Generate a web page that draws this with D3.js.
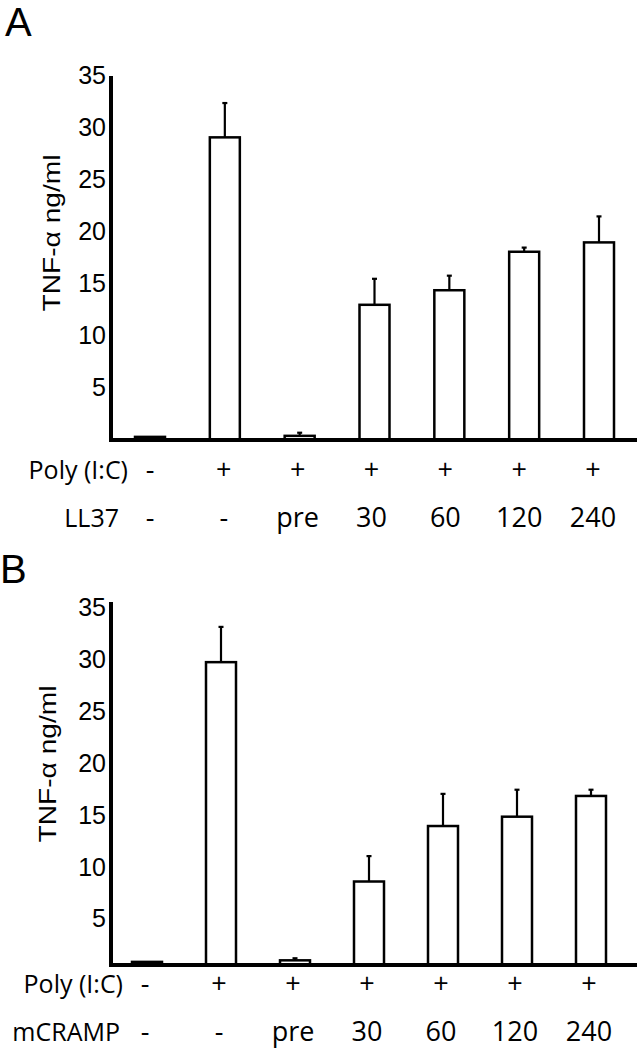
<!DOCTYPE html>
<html>
<head>
<meta charset="utf-8">
<script src="https://cdn.jsdelivr.net/npm/d3@7"></script>
<style>
  html, body { margin: 0; padding: 0; background: #fff; }
  svg { display: block; }
</style>
</head>
<body>
<svg id="chart" width="638" height="1050"></svg>
<script>
// ---------- data ----------
const groups = ["g1", "g2", "g3", "g4", "g5", "g6", "g7"];
const polyRow = ["-", "+", "+", "+", "+", "+", "+"];
const ll37Row = ["-", "-", "pre", "30", "60", "120", "240"];
const mcrampRow = ["-", "-", "pre", "30", "60", "120", "240"];
const meanA = [0.3, 29.1, 0.4, 13.0, 14.4, 18.1, 19.0];
const errA  = [0, 3.3, 0.3, 2.5, 1.4, 0.4, 2.5];
const meanB = [0.3, 29.2, 0.45, 8.05, 13.4, 14.3, 16.3];
const errB  = [0, 3.4, 0.2, 2.45, 3.1, 2.6, 0.6];
const yTicks = [5, 10, 15, 20, 25, 30, 35];
const yTitle = "TNF-\u03b1 ng/ml";

const svg = d3.select("#chart");

function panel(cfg) {
  const g = svg.append("g");
  const y = d3.scaleLinear().domain([0, 35]).range([cfg.base, cfg.top]);
  const xBar = d3.scalePoint().domain(groups).range(cfg.barRange);
  const xLab = d3.scalePoint().domain(groups).range(cfg.labRange);
  const bw = 30;

  // panel letter
  g.append("text").attr("x", cfg.letterX).attr("y", cfg.letterY)
    .attr("font-family", "Liberation Sans, Arial, sans-serif")
    .attr("font-size", 40).text(cfg.letter);

  // y tick labels via axis
  const ax = g.append("g").attr("transform", `translate(${cfg.axisX},0)`)
    .call(d3.axisLeft(y).tickValues(yTicks).tickSize(0).tickPadding(5).tickFormat(d3.format("d")));
  ax.select(".domain").remove();
  ax.selectAll("text")
    .attr("font-family", "Liberation Sans, Arial, sans-serif")
    .attr("font-size", 25).attr("fill", "#000")
    .attr("dy", "0.35em")
    .attr("transform", `translate(0,${cfg.tickDy})`);

  // y title
  g.append("text")
    .attr("transform", `translate(${cfg.titleX},${cfg.titleY}) rotate(-90)`)
    .attr("text-anchor", "middle")
    .attr("font-family", "Liberation Sans, Arial, sans-serif")
    .attr("font-size", 24)
    .attr("textLength", 157).attr("lengthAdjust", "spacingAndGlyphs")
    .text(yTitle);

  const means = cfg.means, errs = cfg.errs;
  const data = groups.map((k, i) => ({ k, m: means[i], e: errs[i] }));

  // error bars
  const eb = data.filter(d => d.e > 0);
  g.selectAll(".eline").data(eb).enter().append("line")
    .attr("x1", d => xBar(d.k)).attr("x2", d => xBar(d.k))
    .attr("y1", d => y(d.m)).attr("y2", d => y(d.m + d.e))
    .attr("stroke", "#000").attr("stroke-width", 2.2);
  g.selectAll(".ecap").data(eb).enter().append("line")
    .attr("x1", d => xBar(d.k) - 2.5).attr("x2", d => xBar(d.k) + 2.5)
    .attr("y1", d => y(d.m + d.e)).attr("y2", d => y(d.m + d.e))
    .attr("stroke", "#000").attr("stroke-width", 2.2);

  // bars
  g.selectAll(".bar").data(data).enter().append("rect")
    .attr("x", d => xBar(d.k) - bw / 2).attr("width", bw)
    .attr("y", d => y(d.m)).attr("height", d => y(0) - y(d.m))
    .attr("fill", "#fff").attr("stroke", "#000").attr("stroke-width", 2.5);

  // axes lines
  g.append("line").attr("x1", cfg.axisX).attr("x2", cfg.axisX)
    .attr("y1", y(35)).attr("y2", y(0) + 2)
    .attr("stroke", "#000").attr("stroke-width", 4);
  g.append("line").attr("x1", cfg.axisX - 2).attr("x2", cfg.axisEnd)
    .attr("y1", y(0)).attr("y2", y(0))
    .attr("stroke", "#000").attr("stroke-width", 4);

  // row labels
  const rowFont = "Open Sans, sans-serif";
  cfg.rows.forEach(r => {
    g.append("text").attr("x", r.nameX).attr("y", r.y)
      .attr("text-anchor", "end").attr("font-family", rowFont)
      .attr("font-size", 25).text(r.name);
    g.selectAll(null).data(r.vals).enter().append("text")
      .attr("x", (d, i) => xLab(groups[i])).attr("y", r.y)
      .attr("text-anchor", "middle").attr("font-family", rowFont)
      .attr("font-size", 27).text(d => d);
  });
}

panel({
  letter: "A", letterX: 5, letterY: 36,
  base: 440, top: 76, axisX: 111, axisEnd: 637,
  barRange: [150, 599], labRange: [150, 593],
  tickDy: -1, titleX: 60, titleY: 233,
  means: meanA, errs: errA,
  rows: [
    { name: "Poly (I:C)", nameX: 128, y: 479, vals: polyRow },
    { name: "LL37", nameX: 119, y: 527, vals: ll37Row }
  ]
});

panel({
  letter: "B", letterX: 0, letterY: 583,
  base: 965, top: 602, axisX: 111, axisEnd: 637,
  barRange: [147, 591], labRange: [145, 589],
  tickDy: 5, titleX: 56, titleY: 764,
  means: meanB, errs: errB,
  rows: [
    { name: "Poly (I:C)", nameX: 123, y: 993, vals: polyRow },
    { name: "mCRAMP", nameX: 120, y: 1041, vals: mcrampRow }
  ]
});
</script>
</body>
</html>
